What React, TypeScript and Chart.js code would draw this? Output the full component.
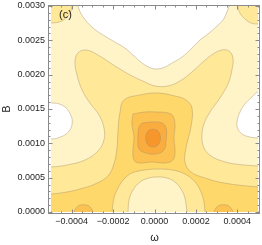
import React, { useEffect, useRef } from 'react';
import { Chart, registerables } from 'chart.js';
Chart.register(...registerables);

// ---- axis ticks ----
const xMajorTicks = [-0.0004, -0.0002, 0, 0.0002, 0.0004];
const xTickLabels = ['\u22120.0004', '\u22120.0002', '0.0000', '0.0002', '0.0004'];
const xMinorTicks = [-0.0005, -0.00045, -0.00035, -0.0003, -0.00025, -0.00015, -0.0001, -0.00005, 0.00005, 0.0001, 0.00015, 0.00025, 0.0003, 0.00035, 0.00045, 0.0005];
const yMajorTicks = [0, 0.0005, 0.001, 0.0015, 0.002, 0.0025, 0.003];
const yTickLabels = ['0.0000', '0.0005', '0.0010', '0.0015', '0.0020', '0.0025', '0.0030'];
const yMinorTicks = [0.0001, 0.0002, 0.0003, 0.0004, 0.0006, 0.0007, 0.0008, 0.0009, 0.0011, 0.0012, 0.0013, 0.0014, 0.0016, 0.0017, 0.0018, 0.0019, 0.0021, 0.0022, 0.0023, 0.0024, 0.0026, 0.0027, 0.0028, 0.0029];

// ---- contour regions: [ω, B] pairs in units of 1e-4 ----
const UNIT = 1e-4;
const level1Area = [[-5.6, -0.6], [-5.6, 30.6], [5.6, 30.6], [5.6, -0.6]];
const whiteTop = [[-3.72, 31.0], [-3.70, 30.0], [-3.45, 28.40], [-3.02, 26.94], [-2.49, 25.78], [-1.92, 24.76], [-1.43, 23.88], [-1.04, 22.86], [-0.60, 21.70], [-0.17, 20.97], [0.17, 20.83], [0.51, 21.12], [0.85, 21.70], [1.33, 22.57], [1.81, 23.88], [2.20, 25.05], [2.58, 25.92], [2.97, 26.94], [3.31, 27.96], [3.50, 29.13], [3.60, 30.0], [3.62, 31.0]];
const whiteLeft = [[-5.6, 16.0], [-5.0, 15.9], [-4.47, 15.58], [-4.13, 14.6], [-3.97, 13.11], [-4.16, 11.65], [-4.66, 10.78], [-5.0, 10.63], [-5.6, 10.5]];
const whiteRight = [[5.6, 17.6], [5.0, 17.48], [4.71, 16.75], [4.37, 15.73], [4.13, 14.56], [3.99, 13.25], [4.01, 12.23], [4.23, 11.36], [4.61, 10.92], [5.0, 10.78], [5.6, 10.7]];
const l2TopLeft = [[-5.6, 27.5], [-5.0, 27.52], [-4.61, 27.67], [-4.32, 28.11], [-4.08, 28.98], [-3.99, 30.0], [-3.97, 31.0], [-5.6, 31.0]];
const l2TopRight = [[4.02, 31.0], [4.03, 30.0], [4.10, 29.13], [4.32, 28.25], [4.66, 27.52], [5.0, 27.38], [5.6, 27.3], [5.6, 31.0]];
const l2Main = [[-5.6, 6.5], [-5.0, 6.55], [-4.23, 6.84], [-3.36, 7.57], [-2.73, 8.88], [-2.44, 10.49], [-2.44, 12.23], [-2.68, 14.13], [-3.12, 15.87], [-3.50, 17.77], [-3.74, 19.95], [-3.84, 21.84], [-3.70, 23.16], [-3.31, 23.59], [-2.73, 22.86], [-1.91, 21.26], [-1.09, 19.81], [-0.46, 18.93], [0.02, 18.35], [0.65, 18.35], [1.23, 19.08], [1.81, 20.39], [2.34, 21.84], [2.83, 23.01], [3.26, 23.59], [3.60, 23.45], [3.79, 22.43], [3.74, 20.68], [3.55, 18.64], [3.16, 16.60], [2.68, 14.56], [2.39, 12.82], [2.29, 11.07], [2.39, 9.32], [2.73, 8.16], [3.26, 7.43], [3.89, 6.99], [5.0, 6.70], [5.6, 6.65], [5.6, -0.6], [-5.6, -0.6]];
const l3Main = [[-5.6, 2.6], [-5.0, 2.62], [-4.23, 2.91], [-3.60, 3.35], [-2.87, 4.08], [-2.25, 5.24], [-1.96, 6.99], [-1.81, 9.32], [-1.76, 11.94], [-1.67, 14.42], [-1.47, 16.31], [-0.70, 17.04], [0.12, 17.33], [0.99, 16.89], [1.52, 16.31], [1.81, 15.15], [1.76, 12.38], [1.52, 9.32], [1.47, 7.28], [1.76, 5.83], [2.44, 4.95], [3.36, 4.22], [5.0, 3.64], [5.6, 3.6], [5.6, -0.6], [-5.6, -0.6]];
const l2Arch = [[-2.07, -0.6], [-2.05, 0], [-1.96, 2.04], [-1.76, 3.50], [-1.47, 4.81], [-1.09, 5.68], [-0.46, 6.12], [0.17, 6.26], [0.85, 6.12], [1.47, 5.53], [1.96, 4.37], [2.25, 2.91], [2.39, 1.46], [2.44, 0], [2.46, -0.6]];
const l1Hill = [[-1.30, -0.6], [-1.28, 0], [-1.23, 1.75], [-1.04, 3.20], [-0.70, 4.37], [-0.27, 4.95], [0.17, 5.10], [0.60, 4.95], [0.99, 4.37], [1.28, 3.35], [1.47, 2.04], [1.57, 0], [1.59, -0.6]];
const l4Center = [[-1.04, 14.27], [-0.46, 14.56], [0.12, 14.56], [0.65, 14.42], [0.89, 13.98], [0.99, 12.67], [0.94, 10.78], [0.99, 8.74], [0.89, 7.57], [0.51, 7.14], [-0.12, 7.28], [-0.75, 7.14], [-0.99, 7.57], [-1.04, 9.03], [-0.99, 10.92], [-1.09, 12.82], [-1.04, 14.27]];
const l4BottomLeft = [[-3.91, -0.6], [-3.89, 0], [-3.79, 0.58], [-3.65, 0.95], [-3.43, 1.05], [-3.21, 0.95], [-3.07, 0.58], [-2.97, 0], [-2.95, -0.6]];
const l4BottomRight = [[2.85, -0.6], [2.87, 0], [2.97, 0.58], [3.12, 0.95], [3.33, 1.05], [3.55, 0.95], [3.69, 0.58], [3.79, 0], [3.81, -0.6]];
const l5Center = [[-0.60, 12.96], [-0.12, 13.11], [0.36, 12.96], [0.56, 12.23], [0.56, 10.49], [0.46, 9.03], [0.07, 8.45], [-0.41, 8.59], [-0.75, 9.17], [-0.80, 10.78], [-0.75, 12.38], [-0.60, 12.96]];
const l6Center = [[-0.07, 12.09], [0.17, 11.80], [0.29, 10.78], [0.17, 9.76], [-0.07, 9.47], [-0.31, 9.76], [-0.43, 10.78], [-0.31, 11.80], [-0.07, 12.09]];

const levelColors = ['#FFFFFF', '#FFF4C8', '#FFE897', '#FFD86B', '#FDC352', '#FAAD3E', '#F6962B'];
const CONTOUR_LINE = 'rgba(165,145,105,0.55)';
const FRAME = '#8a8a8a';
const TEXT = '#1e1e1e';

const layers: { pts: number[][]; level: number; stroke: boolean }[] = [
  { pts: level1Area, level: 1, stroke: false },
  { pts: whiteTop, level: 0, stroke: true },
  { pts: whiteLeft, level: 0, stroke: true },
  { pts: whiteRight, level: 0, stroke: true },
  { pts: l2TopLeft, level: 2, stroke: true },
  { pts: l2TopRight, level: 2, stroke: true },
  { pts: l2Main, level: 2, stroke: true },
  { pts: l3Main, level: 3, stroke: true },
  { pts: l2Arch, level: 2, stroke: true },
  { pts: l1Hill, level: 1, stroke: true },
  { pts: l4Center, level: 4, stroke: true },
  { pts: l4BottomLeft, level: 4, stroke: true },
  { pts: l4BottomRight, level: 4, stroke: true },
  { pts: l5Center, level: 5, stroke: true },
  { pts: l6Center, level: 6, stroke: true },
];

const frameAxes = {
  id: 'frameAxes',
  afterDraw(chart: any) {
    const { ctx, chartArea: a, scales } = chart;
    const xs = scales.x, ys = scales.y;
    const L = a.left - 2.5, R = a.right + 1.5, T = a.top - 0.5, Bt = a.bottom + 1.5;
    ctx.save();
    ctx.strokeStyle = FRAME;
    ctx.lineWidth = 1;
    ctx.strokeRect(L, T, R - L, Bt - T);
    const tickY = (v: number, len: number) => {
      const p = Math.round(ys.getPixelForValue(v)) + 0.5;
      ctx.beginPath();
      ctx.moveTo(L, p); ctx.lineTo(L + len, p);
      ctx.moveTo(R, p); ctx.lineTo(R - len, p);
      ctx.stroke();
    };
    const tickX = (v: number, len: number) => {
      const p = Math.round(xs.getPixelForValue(v)) + 0.5;
      ctx.beginPath();
      ctx.moveTo(p, Bt); ctx.lineTo(p, Bt - len);
      ctx.moveTo(p, T); ctx.lineTo(p, T + len);
      ctx.stroke();
    };
    yMajorTicks.forEach((v) => tickY(v, 4));
    yMinorTicks.forEach((v) => tickY(v, 2));
    xMajorTicks.forEach((v) => tickX(v, 4));
    xMinorTicks.forEach((v) => tickX(v, 2));

    ctx.fillStyle = TEXT;
    ctx.font = '9px "Liberation Sans", Arial, sans-serif';
    ctx.textAlign = 'right';
    ctx.textBaseline = 'middle';
    yMajorTicks.forEach((v, i) => ctx.fillText(yTickLabels[i], 45, ys.getPixelForValue(v)));
    ctx.textAlign = 'center';
    xMajorTicks.forEach((v, i) => ctx.fillText(xTickLabels[i], xs.getPixelForValue(v), 222));

    ctx.font = '11px "Liberation Sans", Arial, sans-serif';
    ctx.fillText('\u03c9', (a.left + a.right) / 2, 238);
    ctx.fillText('(c)', 65.5, 14.5);
    ctx.save();
    ctx.translate(6.5, (a.top + a.bottom) / 2);
    ctx.rotate(-Math.PI / 2);
    ctx.fillText('B', 0, 0);
    ctx.restore();
    ctx.restore();
  },
};

export default function App() {
  const ref = useRef<HTMLCanvasElement | null>(null);
  useEffect(() => {
    if (!ref.current) return;
    const n = layers.length;
    const chart = new Chart(ref.current, {
      type: 'scatter',
      data: {
        datasets: layers.map((l, i) => ({
          data: l.pts.map(([w, b]) => ({ x: w * UNIT, y: b * UNIT })),
          showLine: true,
          fill: 'shape',
          backgroundColor: levelColors[l.level],
          borderColor: CONTOUR_LINE,
          borderWidth: l.stroke ? 0.8 : 0,
          pointRadius: 0,
          pointHoverRadius: 0,
          tension: l.stroke ? 0.4 : 0,
          order: n - i,
        })) as any,
      },
      options: {
        animation: false,
        responsive: false,
        events: [],
        layout: { padding: { left: 51, right: 4, top: 6, bottom: 33 } },
        scales: {
          x: { type: 'linear', min: -0.0005, max: 0.0005, display: false },
          y: { type: 'linear', min: 0, max: 0.003, display: false },
        },
        plugins: { legend: { display: false }, tooltip: { enabled: false } },
      },
      plugins: [frameAxes],
    });
    return () => chart.destroy();
  }, []);
  return (
    <div style={{ position: 'fixed', left: 0, top: 0, width: 262, height: 245, background: '#fff' }}>
      <canvas ref={ref} width={262} height={245} style={{ display: 'block' }} />
    </div>
  );
}
